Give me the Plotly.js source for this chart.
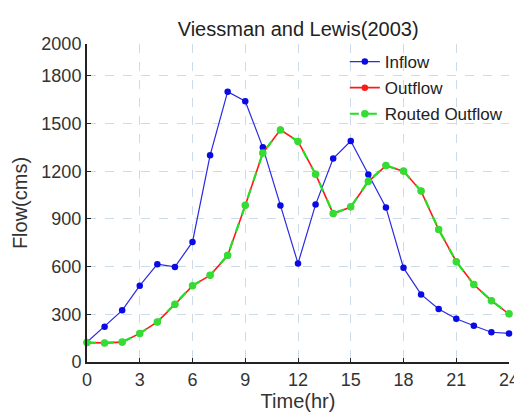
<!DOCTYPE html>
<html><head><meta charset="utf-8">
<script src="https://cdn.plot.ly/plotly-3.0.1.min.js"></script>
<style>body{margin:0;padding:0;background:#fff}#chart{width:514px;height:418px}</style>
</head><body><div id="chart"></div>
<script>
const time = [0,1,2,3,4,5,6,7,8,9,10,11,12,13,14,15,16,17,18,19,20,21,22,23,24];
const inflow = [125,222,325,480,615,598,755,1300,1700,1640,1350,985,620,990,1280,1390,1180,972,592,425,333,272,228,187,180];
const outflow = [122,120,125,180,252,362,480,545,670,985,1315,1460,1388,1182,933,975,1135,1235,1200,1075,833,632,487,385,302];
const routed = [122,120,126,180,252,363,480,545,671,986,1314,1459,1387,1181,934,976,1137,1236,1201,1076,834,631,487,386,303];
const xTicks = [0,3,6,9,12,15,18,21,24];
const yTicks = [0,300,600,900,1200,1500,1800,2000];

const FF = 'Liberation Sans, Arial, sans-serif';
const traces = [
  {x: time, y: inflow, name: 'Inflow', legendgroup: 'a', mode: 'lines+markers', cliponaxis: false,
   line: {color: '#2a2ae0', width: 1.2}, marker: {color: '#0a0ae6', size: 6.5}},
  {x: time, y: outflow, name: 'Outflow', legendgroup: 'b', mode: 'lines+markers', cliponaxis: false,
   line: {color: '#ff1a1a', width: 1.6}, marker: {color: '#ff1a1a', size: 6.5}},
  {x: time, y: routed, name: 'Routed Outflow', legendgroup: 'c', mode: 'lines+markers', cliponaxis: false,
   line: {color: '#22e022', width: 2.2, dash: 'dash'}, marker: {color: '#33dd33', size: 7.5}}
];

const axisFont = {family: FF, size: 18, color: '#333'};
const layout = {
  width: 514, height: 418,
  margin: {l: 87, r: 5, t: 44, b: 56},
  paper_bgcolor: '#fff', plot_bgcolor: '#fff',
  title: {text: 'Viessman and Lewis(2003)', x: 0.58, xanchor: 'center', y: 0.93, yanchor: 'middle',
    font: {family: FF, size: 20, color: '#222'}},
  xaxis: {range: [0, 24], tickvals: xTicks, ticktext: xTicks.map(String),
    showgrid: true, gridcolor: '#cddbe8', griddash: 'dash', gridwidth: 1,
    showline: true, linecolor: '#222', linewidth: 2, mirror: false,
    ticks: 'inside', ticklen: 4, tickcolor: '#222', zeroline: false,
    tickfont: axisFont, automargin: false, ticklabeloverflow: 'allow',
    title: {text: 'Time(hr)', font: {family: FF, size: 20, color: '#333'}, standoff: 4}},
  yaxis: {range: [0, 2000], tickvals: yTicks, ticktext: yTicks.map(String),
    showgrid: true, gridcolor: '#cddbe8', griddash: 'dash', gridwidth: 1,
    showline: true, linecolor: '#222', linewidth: 2, mirror: false,
    ticks: 'inside', ticklen: 4, tickcolor: '#222', zeroline: false,
    tickfont: axisFont, automargin: false, ticklabeloverflow: 'allow',
    title: {text: 'Flow(cms)', font: {family: FF, size: 20, color: '#333'}, standoff: 8}},
  showlegend: true,
  legend: {x: 0.611, y: 1.0, xanchor: 'left', yanchor: 'top', bgcolor: 'rgba(255,255,255,0)',
    borderwidth: 0, font: {family: FF, size: 17, color: '#222'},
    traceorder: 'grouped', tracegroupgap: 1, itemwidth: 30}
};

Plotly.newPlot('chart', traces, layout, {displayModeBar: false, staticPlot: true});
</script>
</body></html>
